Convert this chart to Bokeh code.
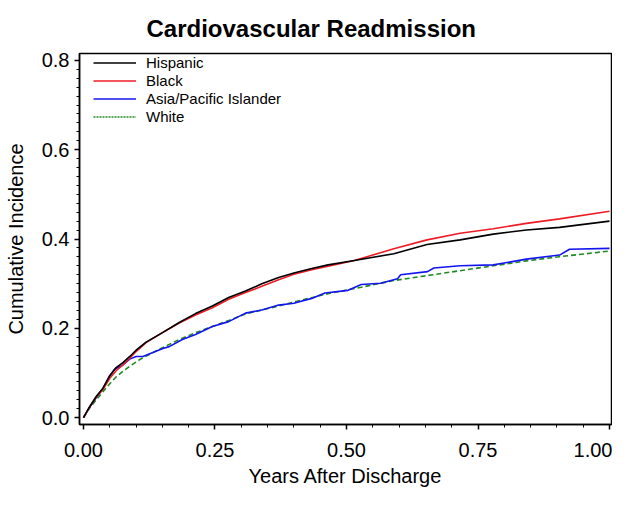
from bokeh.plotting import figure
from bokeh.models import Range1d, FixedTicker, Legend, LegendItem
from bokeh.embed import file_html
from bokeh.resources import INLINE

# ---- data ----
hisp_t = [0, 0.012, 0.0245, 0.037, 0.05, 0.062, 0.075, 0.088, 0.1, 0.119, 0.151, 0.182, 0.213,
          0.245, 0.276, 0.308, 0.339, 0.371, 0.40, 0.434, 0.465, 0.515, 0.59, 0.653, 0.716,
          0.779, 0.842, 0.905, 1.0]
hisp_v = [0, 0.025, 0.048, 0.066, 0.094, 0.112, 0.123, 0.137, 0.151, 0.169, 0.191, 0.213, 0.233,
          0.250, 0.269, 0.2835, 0.2996, 0.314, 0.324, 0.334, 0.342, 0.352, 0.367, 0.3875, 0.398,
          0.411, 0.420, 0.426, 0.440]

black_t = hisp_t
black_v = [0, 0.024, 0.046, 0.063, 0.088, 0.105, 0.118, 0.133, 0.148, 0.168, 0.191, 0.212, 0.230,
           0.246, 0.265, 0.280, 0.294, 0.3085, 0.321, 0.331, 0.339, 0.352, 0.378, 0.398, 0.413,
           0.423, 0.435, 0.445, 0.462]

asian_t = [0, 0.012, 0.0245, 0.037, 0.05, 0.059, 0.075, 0.088, 0.1, 0.113, 0.132, 0.151, 0.163,
           0.188, 0.213, 0.245, 0.276, 0.308, 0.339, 0.371, 0.40, 0.434, 0.459, 0.503, 0.528,
           0.565, 0.597, 0.603, 0.654, 0.666, 0.716, 0.779, 0.842, 0.905, 0.924, 1.0]
asian_v = [0, 0.024, 0.045, 0.065, 0.094, 0.108, 0.118, 0.131, 0.137, 0.137, 0.146, 0.155, 0.159,
           0.175, 0.186, 0.204, 0.215, 0.234, 0.241, 0.252, 0.256, 0.267, 0.279, 0.285, 0.298,
           0.301, 0.311, 0.320, 0.327, 0.335, 0.340, 0.342, 0.355, 0.364, 0.377, 0.379]

white_t = [0, 0.012, 0.0245, 0.037, 0.05, 0.062, 0.075, 0.088, 0.107, 0.126, 0.151, 0.182, 0.213,
           0.245, 0.276, 0.308, 0.339, 0.371, 0.40, 0.465, 0.528, 0.59, 0.653, 0.716, 0.779,
           0.842, 0.905, 1.0]
white_v = [0, 0.022, 0.040, 0.058, 0.076, 0.091, 0.104, 0.115, 0.130, 0.142, 0.157, 0.175, 0.190,
           0.204, 0.2176, 0.232, 0.241, 0.250, 0.259, 0.2776, 0.292, 0.307, 0.318, 0.329, 0.340,
           0.351, 0.3604, 0.373]

title_text = "Cardiovascular Readmission"
series_names = ["Hispanic", "Black", "Asia/Pacific Islander", "White"]
x_ticks = [0, 0.25, 0.5, 0.75, 1.0]
x_tick_labels = ["0.00", "0.25", "0.50", "0.75", "1.00"]
y_ticks = [0, 0.2, 0.4, 0.6, 0.8]
y_tick_labels = ["0.0", "0.2", "0.4", "0.6", "0.8"]
x_minor = [i * 0.05 for i in range(21)]
y_minor = [i * 0.02 for i in range(41)]

FONT = "Liberation Sans"

p = figure(width=612, height=489, output_backend="svg", toolbar_location=None,
           x_range=Range1d(-0.00755, 1.00377), y_range=Range1d(-0.01538, 0.81538),
           min_border_left=79, min_border_right=1, min_border_top=52, min_border_bottom=63)
p.extra_x_ranges = {"legend_only": Range1d(2, 3)}

p.title.text = title_text
p.title.text_font = FONT
p.title.text_font_size = "24px"
p.title.text_font_style = "bold"
p.title.text_color = "black"
p.title.align = "left"
p.title.offset = 67
p.title.standoff = 24

p.xgrid.visible = False
p.ygrid.visible = False
p.outline_line_color = "black"
p.outline_line_width = 1.5
p.outline_line_alpha = 1
p.background_fill_color = "white"
p.border_fill_color = "white"

for ax in (p.xaxis[0], p.yaxis[0]):
    ax.axis_line_color = "black"
    ax.axis_line_width = 1.5
    ax.major_tick_line_color = "black"
    ax.major_tick_line_width = 1.5
    ax.minor_tick_line_color = "black"
    ax.minor_tick_line_width = 1
    ax.major_tick_in = 0
    ax.major_tick_out = 5
    ax.minor_tick_in = 0
    ax.minor_tick_out = 3
    ax.major_label_text_font = FONT
    ax.major_label_text_font_size = "20px"
    ax.major_label_text_color = "black"
    ax.axis_label_text_font = FONT
    ax.axis_label_text_font_size = "20px"
    ax.axis_label_text_font_style = "normal"
    ax.axis_label_text_color = "black"

p.xaxis.ticker = FixedTicker(ticks=x_ticks, minor_ticks=x_minor)
p.yaxis.ticker = FixedTicker(ticks=y_ticks, minor_ticks=y_minor)
p.xaxis.major_label_overrides = dict(zip(x_ticks, x_tick_labels))
p.yaxis.major_label_overrides = dict(zip(y_ticks, y_tick_labels))
p.xaxis.axis_label = "Years After Discharge"
p.yaxis.axis_label = "Cumulative Incidence"
p.xaxis.major_label_standoff = 13
p.xaxis.axis_label_standoff = 5
p.yaxis.major_label_standoff = 5
p.yaxis.axis_label_standoff = 12

GREEN = "#1f8a1f"
r_w = p.line(white_t, white_v, line_color=GREEN, line_width=1.6, line_dash="5 3")
r_a = p.line(asian_t, asian_v, line_color="#1414ee", line_width=1.6)
r_b = p.line(black_t, black_v, line_color="#ee1c24", line_width=1.6)
r_h = p.line(hisp_t, hisp_v, line_color="black", line_width=1.6)
# legend-only copy of the White curve (dotted sample), mapped onto an off-screen range
r_w_leg = p.line(white_t, white_v, x_range_name="legend_only", line_color=GREEN,
                 line_width=1.6, line_dash="2 1")

legend = Legend(items=[
    LegendItem(label=series_names[0], renderers=[r_h]),
    LegendItem(label=series_names[1], renderers=[r_b]),
    LegendItem(label=series_names[2], renderers=[r_a]),
    LegendItem(label=series_names[3], renderers=[r_w_leg]),
], location=(4, 289), border_line_alpha=0, background_fill_alpha=0,
    glyph_width=43, glyph_height=17, label_height=17, spacing=1, padding=10,
    label_standoff=10, label_text_font=FONT, label_text_font_size="15px",
    label_text_color="black", margin=0)
p.add_layout(legend)

open("out.html", "w").write(file_html(p, INLINE))
